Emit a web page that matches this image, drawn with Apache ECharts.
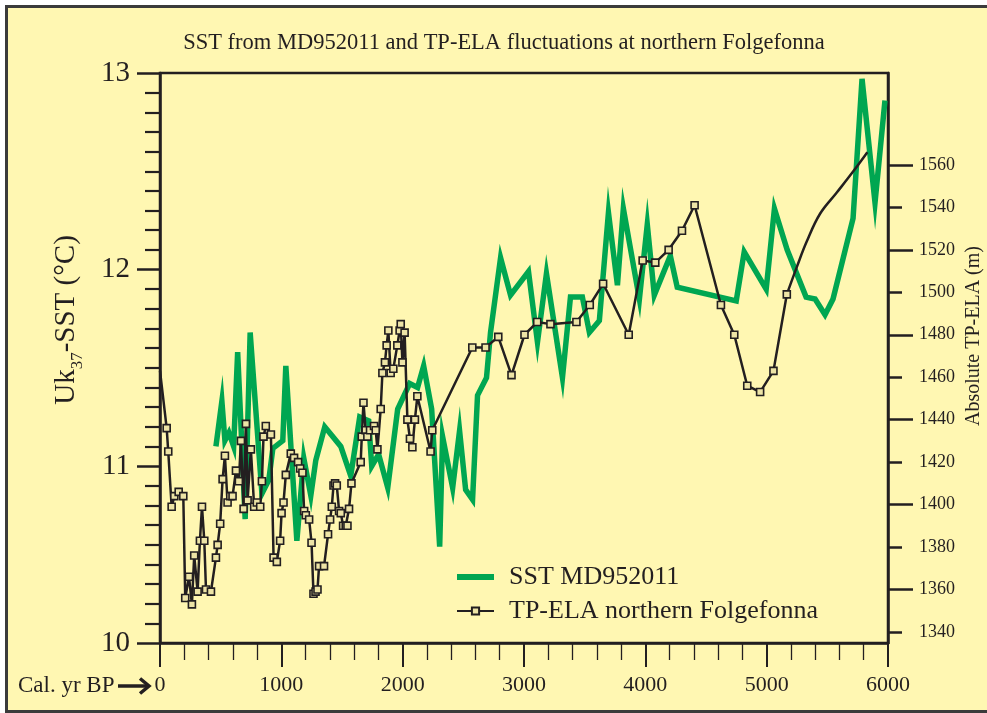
<!DOCTYPE html>
<html><head><meta charset="utf-8">
<script src="https://cdn.jsdelivr.net/npm/echarts@6/dist/echarts.min.js"></script>
<style>html,body{margin:0;padding:0;background:#fff;}#c{width:987px;height:713px;}</style>
</head><body><div id="c"></div>
<script>
// ---- Data ----
const sstYears = [461,510,535,568,607,640,702,743,840,897,930,1012,1037,1128,1185,1243,1284,1358,1490,1572,1646,1720,1745,1802,1877,1959,2058,2123,2173,2239,2305,2329,2412,2469,2519,2576,2617,2691,2724,2807,2889,3037,3111,3185,3317,3383,3481,3539,3621,3696,3770,3819,3951,4016,4074,4206,4263,4749,4815,4996,5064,5169,5325,5399,5481,5547,5712,5786,5893,5975];
const sstValues = [11.10,11.33,11.13,11.17,11.10,11.58,10.73,11.68,10.86,10.93,11.09,11.13,11.51,10.62,11.04,10.85,11.03,11.20,11.10,10.95,11.25,11.23,11.00,11.06,10.89,11.29,11.42,11.40,11.51,11.29,10.59,11.15,10.89,11.18,10.88,10.83,11.36,11.45,11.68,12.06,11.87,11.99,11.63,11.98,11.45,11.86,11.86,11.68,11.74,12.29,11.92,12.31,11.85,12.23,11.87,12.07,11.91,11.84,12.09,11.90,12.31,12.10,11.86,11.85,11.77,11.85,12.26,12.97,12.34,12.86];

const elaYears = [0,55,68,96,118,154,192,208,239,263,282,310,329,346,365,379,420,461,475,496,516,535,557,579,598,626,650,667,689,708,722,749,776,798,826,840,853,872,914,936,963,990,1002,1018,1037,1078,1105,1138,1155,1174,1188,1202,1229,1249,1265,1282,1298,1311,1352,1385,1402,1416,1430,1443,1457,1476,1490,1509,1531,1545,1558,1578,1654,1663,1677,1695,1709,1731,1764,1778,1792,1819,1833,1854,1868,1882,1901,1923,1956,1975,1984,1998,2016,2039,2060,2080,2101,2121,2230,2244,2574,2683,2788,2897,3004,3109,3218,3432,3542,3652,3863,3978,4082,4192,4302,4406,4623,4733,4840,4946,5056,5166];
const elaValues = [1463,1436,1425,1399,1404,1406,1404,1356,1366,1353,1376,1359,1383,1399,1383,1360,1359,1375,1381,1391,1412,1423,1401,1404,1404,1416,1411,1430,1398,1438,1402,1426,1399,1401,1399,1411,1432,1437,1433,1375,1373,1383,1396,1401,1414,1424,1422,1420,1417,1415,1397,1395,1393,1382,1358,1359,1360,1371,1371,1386,1393,1399,1409,1410,1409,1397,1396,1390,1390,1390,1398,1410,1420,1432,1448,1435,1432,1435,1437,1435,1426,1445,1462,1467,1475,1482,1462,1464,1475,1482,1485,1467,1481,1440,1431,1427,1440,1451,1425,1435,1474,1474,1479,1461,1480,1486,1485,1486,1494,1504,1480,1515,1514,1520,1529,1541,1494,1480,1456,1453,1463,1499];

// Unmarked smoothed tail of the ELA curve
const elaCurveYears = [5166,5249,5331,5440,5578,5714,5830];
const elaCurveValues = [1499,1512,1524,1537,1547,1557,1566];

// Tick labels
const leftTickValues = [10.1, 11, 12, 13];
const leftTickLabels = ['10', '11', '12', '13'];
const rightLabelValues = [1340,1360,1380,1400,1420,1440,1460,1480,1500,1520,1540,1560];
const rightLongTicks = [1360,1400,1440,1480,1520,1560];
const rightShortTicks = [1340,1380,1420,1460,1500,1540];
const xTickLabels = [0,1000,2000,3000,4000,5000,6000];

// ---- Style ----
const FONT = '"Liberation Serif","Times New Roman",serif';
const DARK = '#231f20';
const BG = '#FFF7B2';
const GREEN = '#00A651';

const leftMinor = [];
for (let k = 102; k <= 129; k++) { if (k % 10 !== 0) leftMinor.push(k / 10); }

const sstData = sstYears.map((y, i) => [y, sstValues[i]]);
const elaData = elaYears.map((y, i) => i === 0 ? {value: [y, elaValues[i]], symbol: 'none'} : [y, elaValues[i]]);
const curveData = elaCurveYears.map((y, i) => [y, elaCurveValues[i]]);

const chart = echarts.init(document.getElementById('c'), null, {renderer: 'canvas'});
chart.setOption({
  animation: false,
  backgroundColor: '#ffffff',
  textStyle: {fontFamily: FONT},
  grid: {left: 160, right: 99, top: 73, bottom: 70, show: true, borderColor: DARK, borderWidth: 2.5, backgroundColor: 'transparent'},
  legend: {
    data: [
      {name: 'SST MD952011', icon: 'path://M0,0L0.01,0L0.01,0.01ZM0,1.5H37V7.5H0ZM0,9L0.01,9L0.01,8.99Z', itemStyle: {color: GREEN, borderWidth: 0}},
      {name: 'TP-ELA northern Folgefonna'}
    ],
    orient: 'vertical', left: 456, top: 563, padding: 0,
    itemWidth: 37, itemHeight: 9, itemGap: 6,
    textStyle: {fontFamily: FONT, fontSize: 26, color: DARK, lineHeight: 28, padding: [0, 0, 0, 10]}
  },
  xAxis: {
    type: 'value', min: 0, max: 6000, interval: 1000,
    axisLine: {lineStyle: {color: DARK, width: 2.5}},
    axisTick: {inside: false, length: 24, lineStyle: {color: DARK, width: 2}},
    minorTick: {show: true, splitNumber: 5, length: 17, lineStyle: {color: DARK, width: 1.3}},
    axisLabel: {margin: 31, fontFamily: FONT, fontSize: 22, color: DARK,
      formatter: v => String(xTickLabels.find(t => Math.abs(t - v) < 1e-6) ?? v)},
    splitLine: {show: false}, minorSplitLine: {show: false}
  },
  yAxis: [
    {
      type: 'value', position: 'left', min: 10.1, max: 13,
      axisLine: {show: true, lineStyle: {color: DARK, width: 2.5}},
      axisTick: {show: true, inside: false, customValues: leftTickValues, length: 23, lineStyle: {color: DARK, width: 2.5}},
      axisLabel: {customValues: leftTickValues, margin: 30, fontFamily: FONT, fontSize: 29, color: DARK,
        formatter: v => { let b = 0; leftTickValues.forEach((t, i) => { if (Math.abs(t - v) < Math.abs(leftTickValues[b] - v)) b = i; }); return leftTickLabels[b]; }},
      splitLine: {show: false}
    },
    {
      type: 'value', position: 'left', min: 10.1, max: 13,
      axisLine: {show: false},
      axisTick: {show: true, inside: false, customValues: leftMinor, length: 15, lineStyle: {color: DARK, width: 2.2}},
      axisLabel: {show: false}, splitLine: {show: false}
    },
    {
      type: 'value', position: 'right', min: 1334.8, max: 1603.3,
      axisLine: {show: true, lineStyle: {color: DARK, width: 2.5}},
      axisTick: {show: true, inside: false, customValues: rightLongTicks, length: 25, lineStyle: {color: DARK, width: 2.5}},
      axisLabel: {customValues: rightLabelValues, margin: 31, fontFamily: FONT, fontSize: 18, color: DARK,
        formatter: v => String(Math.round(v))},
      splitLine: {show: false}
    },
    {
      type: 'value', position: 'right', min: 1334.8, max: 1603.3,
      axisLine: {show: false},
      axisTick: {show: true, inside: false, customValues: rightShortTicks, length: 14, lineStyle: {color: DARK, width: 2.5}},
      axisLabel: {show: false}, splitLine: {show: false}
    }
  ],
  series: [
    {
      name: 'SST MD952011', type: 'line', xAxisIndex: 0, yAxisIndex: 0, data: sstData,
      symbol: 'none', lineStyle: {color: GREEN, width: 5.5, join: 'miter'}, itemStyle: {color: GREEN}, z: 2
    },
    {
      name: 'TP-ELA northern Folgefonna', type: 'line', xAxisIndex: 0, yAxisIndex: 2, data: elaData,
      symbol: 'rect', symbolSize: 7, showAllSymbol: true,
      lineStyle: {color: DARK, width: 2.5},
      itemStyle: {color: '#EDE4A6', borderColor: DARK, borderWidth: 1.6}, z: 3
    },
    {
      name: 'ELA curve', type: 'line', xAxisIndex: 0, yAxisIndex: 2, data: curveData,
      symbol: 'none', smooth: 0.4, lineStyle: {color: DARK, width: 2.5}, z: 3
    }
  ],
  graphic: [
    {type: 'rect', z: -100, silent: true, shape: {x: 6.5, y: 6.5, width: 995, height: 705},
     style: {fill: BG, stroke: '#3b3b3b', lineWidth: 3}},
    {type: 'text', x: 504, y: 43, silent: true,
     style: {text: 'SST from MD952011 and TP-ELA fluctuations at northern Folgefonna', fontFamily: FONT, fontSize: 22.5, fill: DARK, align: 'center', verticalAlign: 'middle'}},
    {type: 'text', x: 66, y: 320, rotation: Math.PI / 2, silent: true,
     style: {text: '{a|Uk}{b|37}{a|-SST (°C)}', align: 'center', verticalAlign: 'middle',
       rich: {a: {fontFamily: FONT, fontSize: 29, fill: DARK, color: DARK, lineHeight: 40, verticalAlign: 'middle'},
              b: {fontFamily: FONT, fontSize: 17, fill: DARK, color: DARK, lineHeight: 40, verticalAlign: 'bottom'}}}},
    {type: 'text', x: 974, y: 336, rotation: Math.PI / 2, silent: true,
     style: {text: 'Absolute TP-ELA (m)', fontFamily: FONT, fontSize: 20, fill: DARK, align: 'center', verticalAlign: 'middle'}},
    {type: 'text', x: 18, y: 686, silent: true,
     style: {text: 'Cal. yr BP', fontFamily: FONT, fontSize: 23, fill: DARK, align: 'left', verticalAlign: 'middle'}},
    {type: 'polyline', silent: true, shape: {points: [[118, 686], [147, 686]]}, style: {stroke: DARK, lineWidth: 3.5, fill: null}},
    {type: 'polyline', silent: true, shape: {points: [[140, 678.5], [149, 686], [140, 693.5]]}, style: {stroke: DARK, lineWidth: 3.5, fill: null}}
  ]
});
</script>
</body></html>
